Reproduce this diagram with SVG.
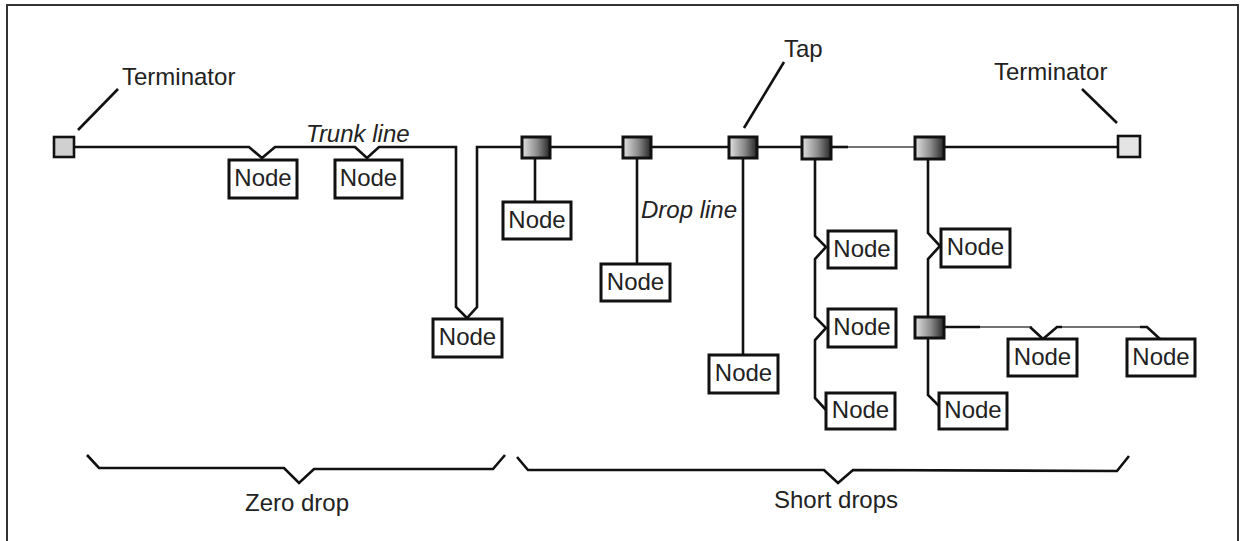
<svg xmlns="http://www.w3.org/2000/svg" width="1242" height="541" viewBox="0 0 1242 541">
<defs>
<linearGradient id="tapGrad" x1="0" y1="0" x2="1" y2="0">
<stop offset="0" stop-color="#e2e2e2"/>
<stop offset="0.55" stop-color="#8a8a8a"/>
<stop offset="1" stop-color="#262626"/>
</linearGradient>
</defs>
<style>
.frame{fill:none;stroke:#333;stroke-width:2}
.ln{fill:none;stroke:#111;stroke-width:2.6;stroke-linejoin:miter}
.thin{fill:none;stroke:#444;stroke-width:1.6}
.box{fill:#fff;stroke:#111;stroke-width:3}
.tap{fill:url(#tapGrad);stroke:#111;stroke-width:3}
.term{stroke:#111;stroke-width:2.6}
.t{font-family:"Liberation Sans",Arial,sans-serif;font-size:24px;fill:#222}
.it{font-style:italic}
.c{text-anchor:middle}
</style>
<rect class="frame" x="7" y="5" width="1231" height="560"/>
<g id="connectors">
<!-- trunk line -->
<polyline class="ln" points="74,147 249,147 262,158 275,147 355,147 367,158 379,147 456,147 456,307 467,318 477,307 477,147 522,147"/>
<line class="ln" x1="550" y1="147" x2="623" y2="147"/>
<line class="ln" x1="651" y1="147" x2="729" y2="147"/>
<line class="ln" x1="757" y1="147" x2="802" y2="147"/>
<line class="ln" x1="831" y1="147" x2="848" y2="147"/>
<line class="thin" x1="848" y1="147" x2="915" y2="147"/>
<line class="ln" x1="944" y1="147" x2="1118" y2="147"/>
<!-- drop lines -->
<line class="ln" x1="535" y1="158" x2="535" y2="202"/>
<line class="ln" x1="637" y1="158" x2="637" y2="264"/>
<line class="ln" x1="743" y1="158" x2="743" y2="355"/>
<polyline class="ln" points="815,160 815,236 826,247 815,259 815,317 826,328 815,340 815,398 826,410"/>
<polyline class="ln" points="928,160 928,233 940,246 928,259 928,317"/>
<polyline class="ln" points="928,338 928,395 939,406"/>
<line class="ln" x1="944" y1="327" x2="980" y2="327"/>
<line class="thin" x1="980" y1="327" x2="1032" y2="327"/>
<polyline class="ln" points="1030,327 1043,339 1057,327 1062,327"/>
<line class="thin" x1="1062" y1="327" x2="1147" y2="327"/>
<polyline class="ln" points="1140,327 1147,327 1160,339"/>
<!-- leaders -->
<line class="ln" x1="78" y1="130" x2="118" y2="89"/>
<line class="ln" x1="744" y1="128" x2="784" y2="62"/>
<line class="ln" x1="1082" y1="89" x2="1117" y2="123"/>
<!-- braces -->
<polyline class="ln" points="87,455 99,468 284,468 299,483 314,469 493,469 505,455"/>
<polyline class="ln" points="517,457 528,470 824,470 838,483 853,470 1117,471 1129,456"/>
</g>
<g id="terminator-left"><rect x="54" y="137" width="20" height="20" fill="#d0d0d0" class="term"/></g>
<g id="terminator-right"><rect x="1118" y="136" width="22" height="21" fill="#e4e4e4" class="term"/></g>
<g id="tap1"><rect class="tap" x="522" y="137" width="28" height="21"/></g>
<g id="tap2"><rect class="tap" x="623" y="137" width="28" height="21"/></g>
<g id="tap3"><rect class="tap" x="729" y="137" width="28" height="21"/></g>
<g id="tap4"><rect class="tap" x="802" y="137" width="29" height="22"/></g>
<g id="tap5"><rect class="tap" x="915" y="137" width="29" height="22"/></g>
<g id="tap6"><rect class="tap" x="915" y="317" width="29" height="21"/></g>
<g id="node1"><rect class="box" x="229" y="160" width="68" height="38"/><text class="t c" x="263" y="186">Node</text></g>
<g id="node2"><rect class="box" x="335" y="160" width="67" height="38"/><text class="t c" x="368.5" y="186">Node</text></g>
<g id="node3"><rect class="box" x="433" y="319" width="69" height="38"/><text class="t c" x="467.5" y="345">Node</text></g>
<g id="node4"><rect class="box" x="503" y="202" width="68" height="37"/><text class="t c" x="537" y="228">Node</text></g>
<g id="node5"><rect class="box" x="601" y="264" width="69" height="37"/><text class="t c" x="635.5" y="290">Node</text></g>
<g id="node6"><rect class="box" x="709" y="355" width="69" height="38"/><text class="t c" x="743.5" y="381">Node</text></g>
<g id="node7"><rect class="box" x="828" y="231" width="68" height="37"/><text class="t c" x="862" y="257">Node</text></g>
<g id="node8"><rect class="box" x="828" y="309" width="68" height="38"/><text class="t c" x="862" y="335">Node</text></g>
<g id="node9"><rect class="box" x="826" y="393" width="69" height="36"/><text class="t c" x="860.5" y="418">Node</text></g>
<g id="node10"><rect class="box" x="941" y="229" width="69" height="38"/><text class="t c" x="975.5" y="255">Node</text></g>
<g id="node11"><rect class="box" x="939" y="393" width="68" height="36"/><text class="t c" x="973" y="418">Node</text></g>
<g id="node12"><rect class="box" x="1008" y="339" width="69" height="37"/><text class="t c" x="1042.5" y="365">Node</text></g>
<g id="node13"><rect class="box" x="1127" y="339" width="68" height="37"/><text class="t c" x="1161" y="365">Node</text></g>
<g id="labels">
<text class="t" x="122" y="85">Terminator</text>
<text class="t" x="994" y="80">Terminator</text>
<text class="t" x="784" y="57">Tap</text>
<text class="t it" x="306" y="142">Trunk line</text>
<text class="t it" x="641" y="218">Drop line</text>
<text class="t" x="245" y="511">Zero drop</text>
<text class="t" x="774" y="508">Short drops</text>
</g>
</svg>
